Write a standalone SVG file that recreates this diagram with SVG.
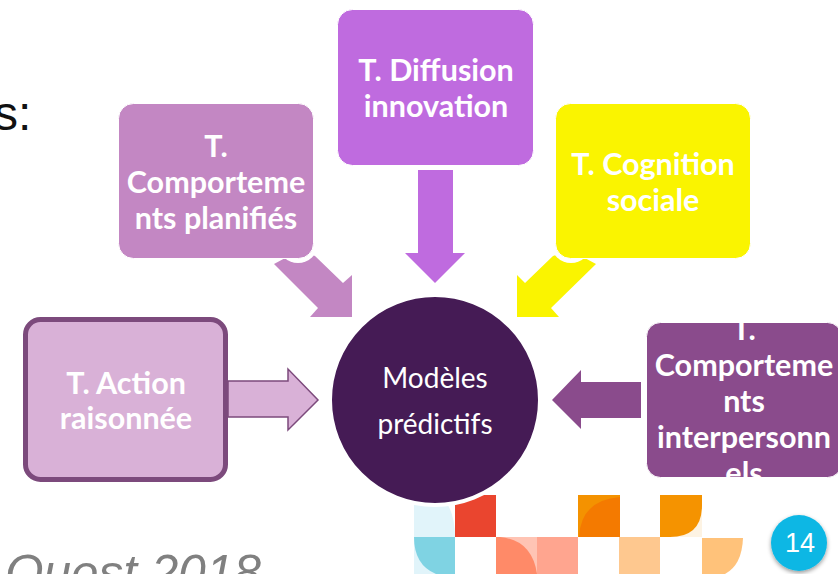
<svg xmlns="http://www.w3.org/2000/svg" width="838" height="574" viewBox="0 0 838 574">
<defs>
<style>
.t{font-family:"Lato","Liberation Sans",sans-serif;font-weight:700;font-size:30.500px;fill:#fff;text-anchor:middle}
.box{stroke:#fff;stroke-width:1}
.m{font-family:"Lato","Liberation Sans",sans-serif;font-size:28px;fill:#fff;text-anchor:middle}
</style>
<clipPath id="clipR"><rect x="647" y="323" width="191" height="154" rx="14"/></clipPath>
<filter id="sh" x="-30%" y="-30%" width="160%" height="160%"><feDropShadow dx="0" dy="2" stdDeviation="2" flood-color="#000" flood-opacity="0.4"/></filter>
</defs>
<rect width="838" height="574" fill="#fff"/>
<text x="-6" y="130" font-family="Liberation Sans, sans-serif" font-size="48" fill="#111">s:</text>
<text x="5" y="590" font-family="Liberation Sans, sans-serif" font-style="italic" font-size="49.500" fill="#808080">Ouest 2018</text>
<g id="mosaic">
<path d="M414 495H441Q455 510 455 537H414Z" fill="#e1f4fa"/>
<rect x="455" y="495" width="41" height="42" fill="#ea452f"/>
<rect x="578" y="495" width="42" height="42" fill="#f49200"/>
<path d="M579 537Q581 500 620 497V537Z" fill="#f47a00"/>
<path d="M660 495H702V537H660Z" fill="#fdf3e3"/>
<path d="M660 495H702V505Q702 537 670 537H660Z" fill="#f59300"/>
<rect x="414" y="537" width="41" height="37" fill="#e1f4fa"/>
<path d="M414 537H455V574H436Q414 565 414 537Z" fill="#7fd3e3"/>
<rect x="496" y="537" width="41" height="37" fill="#ffc4b4"/>
<path d="M496 537H500Q532 540 537 574H496Z" fill="#ff8a68"/>
<rect x="537" y="537" width="41" height="37" fill="#ffa58f"/>
<rect x="619" y="537" width="41" height="37" fill="#fec88f"/>
<path d="M702 538H743Q742 565 725 574H702Z" fill="#ffc27a"/>
</g>
<g id="connectors">
<path fill="#c387c3" d="M274 264L318 308L310 317H352V275L343 283L315 256L300 250Z"/>
<path fill="#bf6bdf" d="M418 170H453V253H465L435 283L405 253H418Z"/>
<path fill="#faf400" d="M553 256L525 283L517 275V317H559L551 308L596 264L570 250Z"/>
<path fill="#d9b1d7" stroke="#7c4a7c" stroke-width="1.5" d="M228 381H288V369L318 400L288 430V417H228Z"/>
<path fill="#8a4b8c" d="M641 382H581V370L552 400L581 429V418H641Z"/>
</g>
<g id="node-planifies">
<circle cx="298" cy="243" r="20" fill="#fff"/>
<rect class="box" x="118.500" y="103.500" width="195" height="155" rx="15" fill="#c387c3"/>
<text class="t" x="216" y="157">T.</text><text class="t" x="216" y="193">Comporteme</text><text class="t" x="216" y="229">nts planifiés</text>
</g>
<g id="node-diffusion">
<rect class="box" x="337.500" y="9.500" width="196" height="156" rx="15" fill="#bf6bdf"/>
<text class="t" x="436" y="81">T. Diffusion</text><text class="t" x="436" y="117">innovation</text>
</g>
<g id="node-cognition">
<circle cx="571" cy="243" r="20" fill="#fff"/>
<rect class="box" x="555.500" y="103.500" width="195" height="155" rx="15" fill="#faf400"/>
<text class="t" x="653" y="175">T. Cognition</text><text class="t" x="653" y="211">sociale</text>
</g>
<g id="node-action">
<rect x="25.500" y="319.500" width="200" height="160" rx="15" fill="#d9b1d7" stroke="#7c4a7c" stroke-width="5"/>
<text class="t" x="126" y="394">T. Action</text><text class="t" x="126" y="429">raisonnée</text>
</g>
<g id="node-interpersonnels">
<rect class="box" x="646.500" y="322.500" width="195" height="155" rx="14" fill="#8a4b8c"/>
<g clip-path="url(#clipR)">
<text class="t" x="744" y="340">T.</text><text class="t" x="744" y="376">Comporteme</text><text class="t" x="744" y="412">nts</text><text class="t" x="744" y="448">interpersonn</text><text class="t" x="744" y="484">els</text>
</g>
</g>
<g id="node-center">
<circle cx="435" cy="400" r="105" fill="#451b55" stroke="#fff" stroke-width="4"/>
<text class="m" x="435" y="388">Modèles</text><text class="m" x="435" y="434">prédictifs</text>
</g>
<g id="badge">
<circle cx="799" cy="543" r="28" fill="#0bb7e4" filter="url(#sh)"/>
<text x="800" y="552" font-family="Liberation Sans, sans-serif" font-size="27" fill="#fff" text-anchor="middle">14</text>
</g>
</svg>
